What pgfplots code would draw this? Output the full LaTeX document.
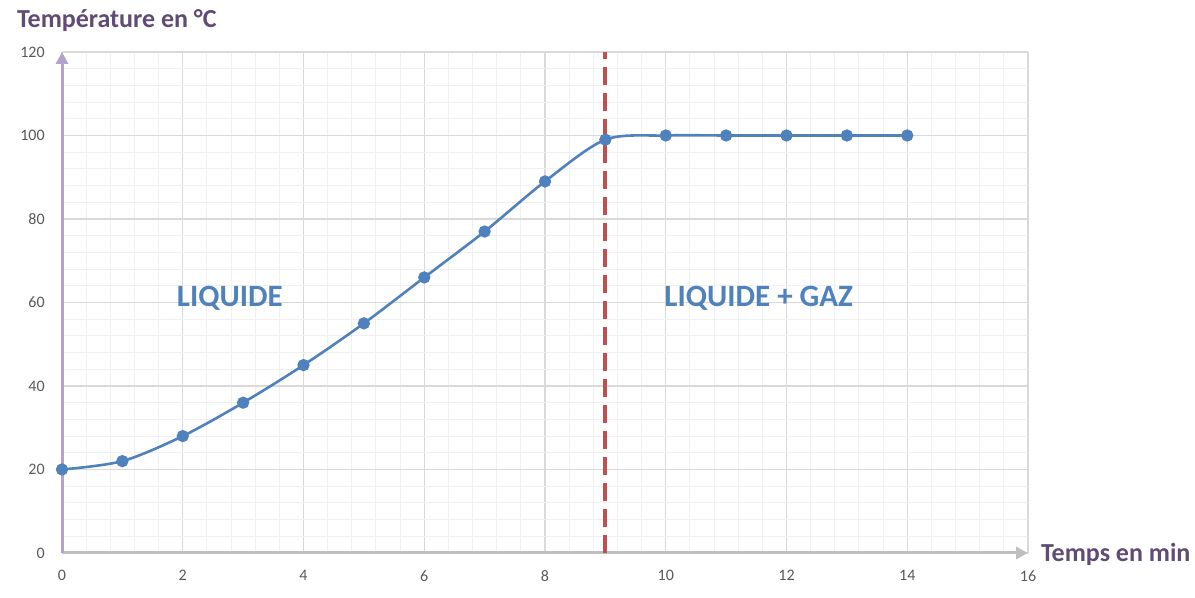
\documentclass[border=0pt]{standalone}
\usepackage{pgfplots}
\pgfplotsset{compat=1.18}
\usepackage{fontspec}
\setmainfont{Carlito}
\usetikzlibrary{arrows.meta}

\definecolor{serie}{HTML}{4F81BD}
\definecolor{rouge}{HTML}{C0504D}
\definecolor{titre}{HTML}{5F4B73}
\definecolor{axey}{HTML}{B4A4CC}
\definecolor{axex}{HTML}{BFBFBF}
\definecolor{grille}{HTML}{D9D9D9}
\definecolor{grillefine}{HTML}{F0F0F0}
\definecolor{chiffres}{HTML}{595959}

\begin{document}
\begin{tikzpicture}
\path[use as bounding box] (0,0) rectangle (597.5pt,299pt);
\begin{axis}[
    at={(31pt,22.5pt)}, anchor=south west,
    scale only axis, width=483pt, height=250.5pt,
    xmin=0, xmax=16, ymin=0, ymax=120,
    xtick={0,2,...,16}, ytick={0,20,...,120},
    minor x tick num=4, minor y tick num=4,
    grid=both,
    major grid style={grille, line width=0.6pt},
    minor grid style={grillefine, line width=0.5pt},
    axis lines=left,
    axis line style={line width=1.5pt, -{Triangle[length=6pt,width=6pt]}},
    x axis line style={axex},
    y axis line style={axey},
    tick style={draw=none},
    ticklabel style={font=\fontsize{8}{9}\selectfont, text=chiffres},
    /pgf/number format/assume math mode=true,
    xticklabel style={yshift=-3pt},
    yticklabel style={xshift=-3pt},
    clip=false,
]
\addplot[rouge, line width=2pt, dash pattern=on 9pt off 4pt] coordinates {(9,0) (9,120)};
\addplot[serie, line width=1.3pt, smooth, mark=*, mark size=2.4pt,
    mark options={fill=serie, draw=serie}] table {
x y
0 20
1 22
2 28
3 36
4 45
5 55
6 66
7 77
8 89
9 99
10 100
11 100
12 100
13 100
14 100
};
\node[font=\fontsize{15.5}{18}\bfseries\selectfont, text=serie] at (axis cs:2.78,61) {LIQUIDE};
\node[font=\fontsize{15.5}{18}\bfseries\selectfont, text=serie] at (axis cs:11.54,61) {LIQUIDE + GAZ};
\end{axis}
\node[anchor=base west, font=\fontsize{13}{15}\bfseries\selectfont, text=titre] at (5pt,285pt) {Température en °C};
\node[anchor=base west, font=\fontsize{13}{15}\bfseries\selectfont, text=titre] at (517pt,18pt) {Temps en min};
\end{tikzpicture}
\end{document}
